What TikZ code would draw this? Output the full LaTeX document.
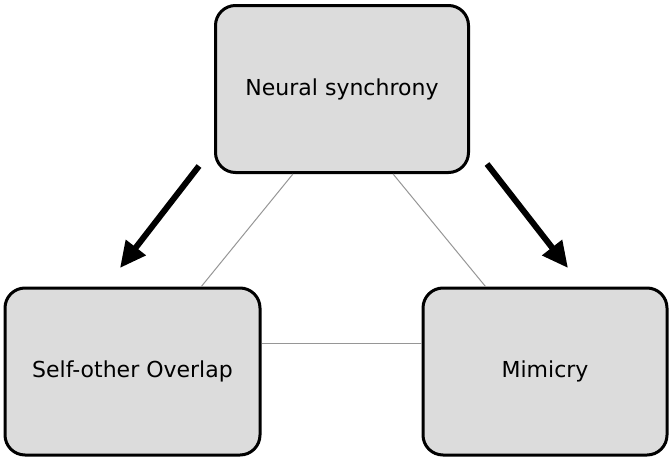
\documentclass[tikz,border=0pt]{standalone}
\usepackage{fontspec}
\setmainfont{DejaVu Sans}
\usepackage{tikz}
\usetikzlibrary{arrows.meta}
\definecolor{boxgray}{RGB}{220,220,220}
\definecolor{linkgray}{RGB}{150,150,150}

\begin{document}
\begin{tikzpicture}[x=1pt,y=-1pt,
  concept/.style={shape=rectangle,rounded corners=20pt,draw,line width=3pt,fill=boxgray,
    minimum height=167pt,font=\fontsize{22}{26}\selectfont},
  link/.style={draw=linkgray,line width=1pt},
  effect/.style={line width=6pt,-{Triangle[length=26pt,width=24pt]}}]
\useasboundingbox (0,0) rectangle (669,458);
\path (342,89) node (synchrony) [concept,minimum width=253pt] {Neural synchrony};
\path (132.5,371.5) node (overlap) [concept,minimum width=255pt] {Self-other Overlap};
\path (545,371.5) node (mimicry) [concept,minimum width=244pt] {Mimicry};
%arrow end points
\coordinate (effL1) at (199,166);
\coordinate (effL2) at (120,268);
\coordinate (effR1) at (487,164);
\coordinate (effR2) at (568,268);
\coordinate (linkmid) at (342,343);

\draw [link] (synchrony.240.8) to (overlap.51);
\draw [link] (synchrony.301.3) to (mimicry.125.7);
\draw [link] (overlap.east |- linkmid) to (mimicry.west |- linkmid);
\draw [effect] (effL1) to (effL2);
\draw [effect] (effR1) to (effR2);
\end{tikzpicture}
\end{document}
